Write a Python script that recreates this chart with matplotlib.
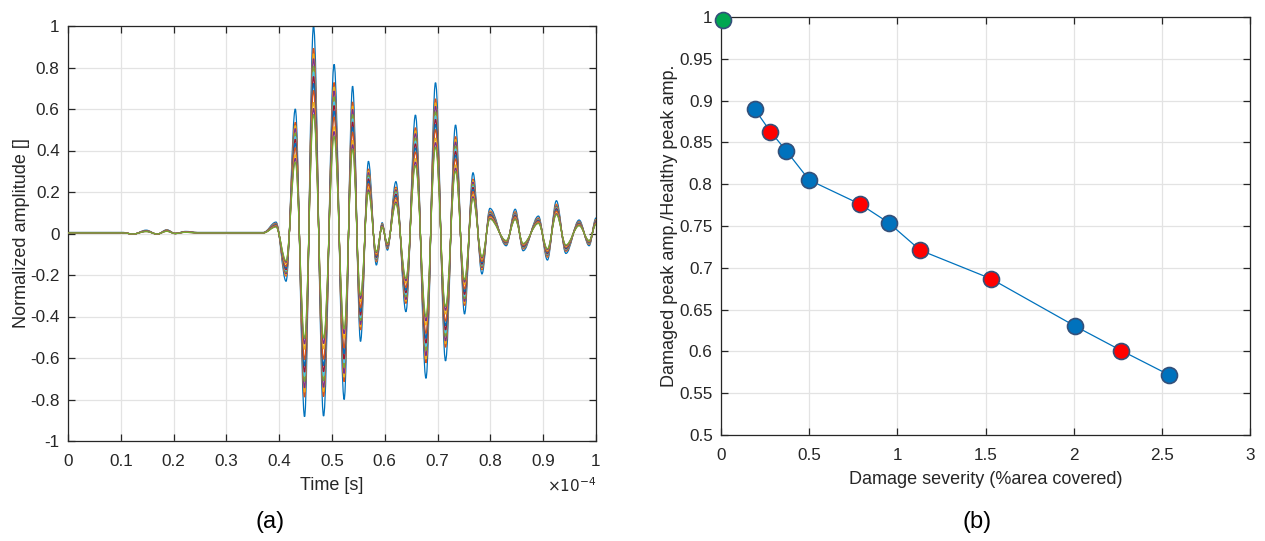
import numpy as np
import matplotlib
matplotlib.use("Agg")
import matplotlib.pyplot as plt
from matplotlib.path import Path
from matplotlib.patches import PathPatch
from matplotlib.ticker import FuncFormatter

plt.rcParams['font.family'] = ['Liberation Sans', 'DejaVu Sans']

# ---------------- data ----------------
# Extrema of the healthy (largest, blue) waveform, time in microseconds
wave_t_us = [0.0, 10.5, 12.3, 14.8, 16.9, 18.7, 20.3, 22.3, 24.5, 37.0,
             39.4, 41.3, 43.05, 44.8, 46.5, 48.4, 50.4, 52.3, 53.9, 55.4,
             56.9, 58.4, 59.5, 60.5, 62.1, 64.0, 65.8, 67.8, 69.6, 71.5,
             73.4, 75.1, 76.7, 78.4, 79.9, 83.0, 84.7, 86.2, 89.1, 90.8,
             92.5, 94.3, 96.8, 98.7, 100.0]
wave_amp = [0.005, 0.005, -0.004, 0.016, -0.004, 0.018, 0.0, 0.010, 0.005, 0.005,
            0.055, -0.23, 0.60, -0.883, 1.0, -0.88, 0.815, -0.80, 0.71, -0.52,
            0.348, -0.152, 0.052, -0.08, 0.25, -0.377, 0.571, -0.698, 0.727, -0.614,
            0.523, -0.388, 0.293, -0.195, 0.121, -0.059, 0.117, -0.083, 0.084, -0.128,
            0.158, -0.096, 0.065, -0.059, 0.075]

# Damage severity (% area covered) vs. peak amplitude ratio
severity = [0.01, 0.19, 0.28, 0.37, 0.50, 0.79, 0.95, 1.13, 1.53, 2.01, 2.27, 2.54]
peak_ratio = [0.997, 0.890, 0.863, 0.840, 0.805, 0.776, 0.754, 0.721, 0.687, 0.630, 0.601, 0.572]
point_kind = ['healthy', 'blue', 'red', 'blue', 'blue', 'red', 'blue', 'red', 'red', 'blue', 'red', 'blue']

left_xticks = [0, 0.1, 0.2, 0.3, 0.4, 0.5, 0.6, 0.7, 0.8, 0.9, 1.0]
left_yticks = [-1, -0.8, -0.6, -0.4, -0.2, 0, 0.2, 0.4, 0.6, 0.8, 1]
right_xticks = [0, 0.5, 1, 1.5, 2, 2.5, 3]
right_yticks = [0.5, 0.55, 0.6, 0.65, 0.7, 0.75, 0.8, 0.85, 0.9, 0.95, 1]

matlab_colors = ['#0072BD', '#D95319', '#EDB120', '#7E2F8E', '#77AC30', '#4DBEEE', '#A2142F']
face_colors = {'healthy': '#00A651', 'blue': '#0072BD', 'red': '#FF0000'}
axis_color = '#262626'
grid_color = '#e3e3e3'

# --------------- figure ---------------
fig = plt.figure(figsize=(12.65, 5.41), dpi=100)
W, H = 1265, 541


def ax_rect(x0, y0, x1, y1):
    return [x0 / W, 1 - y1 / H, (x1 - x0) / W, (y1 - y0) / H]


def style(ax):
    for s in ax.spines.values():
        s.set_color(axis_color)
        s.set_linewidth(0.9)
    ax.tick_params(direction='in', length=5, width=0.9, colors=axis_color,
                   labelsize=12.3, top=True, right=True, pad=6)
    ax.tick_params(axis='x', pad=9)
    ax.grid(True, color=grid_color, linewidth=0.9)
    ax.set_axisbelow(True)


# ---- (a) waveforms ----
ax1 = fig.add_axes(ax_rect(68, 26, 596, 441))
style(ax1)

t_s = np.array(wave_t_us) * 1e-6
amp = np.array(wave_amp)
ratios = np.array(peak_ratio) / peak_ratio[0]


def wave_path(tt, yy):
    verts = [(tt[0], yy[0])]
    codes = [Path.MOVETO]
    k = 0.36
    for i in range(len(tt) - 1):
        dt = tt[i + 1] - tt[i]
        verts += [(tt[i] + k * dt, yy[i]), (tt[i + 1] - k * dt, yy[i + 1]), (tt[i + 1], yy[i + 1])]
        codes += [Path.CURVE4] * 3
    return Path(verts, codes)


for i, r in enumerate(ratios):
    p = wave_path(t_s, amp * r)
    ax1.add_patch(PathPatch(p, fill=False, edgecolor=matlab_colors[i % len(matlab_colors)],
                            linewidth=0.9, zorder=2 + i))

ax1.set_xlim(0, 1e-4)
ax1.set_ylim(-1, 1)
ax1.set_xticks(np.array(left_xticks) * 1e-4)
ax1.xaxis.set_major_formatter(FuncFormatter(lambda v, p: f"{v / 1e-4:g}"))
ax1.set_yticks(left_yticks)
ax1.yaxis.set_major_formatter(FuncFormatter(lambda v, p: f"{v:g}"))
ax1.set_xlabel('Time [s]', fontsize=13, color=axis_color, labelpad=6)
ax1.set_ylabel('Normalized amplitude []', fontsize=13, color=axis_color, labelpad=0)
ax1.text(1.0, -0.108, r'$\times10^{-4}$', transform=ax1.transAxes, ha='right', va='center',
         fontsize=11, color=axis_color)

# ---- (b) peak ratio vs severity ----
ax2 = fig.add_axes(ax_rect(721, 17, 1250, 435))
style(ax2)
ax2.plot(severity[1:], peak_ratio[1:], color='#0072BD', linewidth=0.9, zorder=3)
for x, y, kind in zip(severity, peak_ratio, point_kind):
    ax2.plot([x], [y], marker='o', markersize=11.5, markerfacecolor=face_colors[kind],
             markeredgecolor='#34507a', markeredgewidth=1.2, linestyle='none', zorder=4,
             clip_on=False)
ax2.set_xlim(0, 3)
ax2.set_ylim(0.5, 1)
ax2.set_xticks(right_xticks)
ax2.set_yticks(right_yticks)
ax2.xaxis.set_major_formatter(FuncFormatter(lambda v, p: f"{v:g}"))
ax2.yaxis.set_major_formatter(FuncFormatter(lambda v, p: f"{v:g}"))
ax2.set_xlabel('Damage severity (%area covered)', fontsize=13, color=axis_color, labelpad=6)
ax2.set_ylabel('Damaged peak amp./Healthy peak amp.', fontsize=13, color=axis_color, labelpad=1)

fig.text(270 / W, 1 - 522 / H, '(a)', ha='center', va='center', fontsize=17, color='black')
fig.text(977 / W, 1 - 522 / H, '(b)', ha='center', va='center', fontsize=17, color='black')

fig.savefig('out.png', dpi=100)
